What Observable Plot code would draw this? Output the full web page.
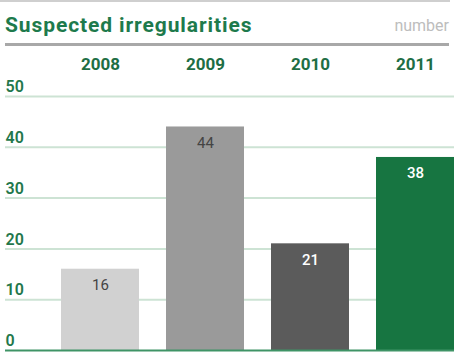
<!DOCTYPE html>
<html><head><meta charset="utf-8">
<script src="https://cdn.jsdelivr.net/npm/d3@7"></script>
<script src="https://cdn.jsdelivr.net/npm/@observablehq/plot@0.6"></script>
<style>
body{margin:0;background:#fff;font-family:Roboto,sans-serif;}
#wrap{position:relative;width:454px;height:352px;overflow:hidden}
#topline{position:absolute;left:0;top:0;width:450px;height:2px;background:#cfcfcf}
#title{position:absolute;left:5px;top:13px;font-size:21px;font-weight:700;color:#1e7a4c;line-height:24px;white-space:nowrap;letter-spacing:0.9px}
#unit{position:absolute;right:5px;top:16px;font-size:16px;color:#bdbdbd;line-height:20px}
#rule{position:absolute;left:5px;top:43px;width:444px;height:3px;background:#a8a8a8}
#chart{position:absolute;left:0;top:46px}
</style></head><body>
<div id="wrap"><div id="topline"></div><div id="title">Suspected irregularities</div><div id="unit">number</div><div id="rule"></div><div id="chart"></div></div>
<script>
const years = ["2008","2009","2010","2011"];
const counts = [16,44,21,38];
const yTicks = [0,10,20,30,40,50];
const barColors = ["#d1d1d1","#9a9a9a","#5b5b5b","#177541"];
const data = years.map((year,i)=>({year, count: counts[i]}));
const darkLabelYears = ["2008","2009"];
const plot = Plot.plot({
  width:454, height:306, marginLeft:5, marginRight:0, marginTop:50, marginBottom:2,
  style:{fontFamily:"Roboto, sans-serif", background:"transparent", overflow:"visible"},
  x:{domain: years, paddingInner:0.26, paddingOuter:0.267, align:1, axis:null},
  y:{domain:[0,50], axis:null},
  color:{domain: years, range: barColors},
  marks:[
    Plot.ruleY(yTicks.filter(d=>d>0), {stroke:"#cde3d4", strokeWidth:2}),
    Plot.barY(data, {x:"year", y:"count", fill:"year"}),
    Plot.ruleY([0], {stroke:"#3f9466", strokeWidth:2}),
    Plot.text(yTicks, {y: d=>d, frameAnchor:"left", textAnchor:"start", dy:-9.5, text: d=>String(d), fill:"#23774b", fontSize:16, fontWeight:600}),
    Plot.text(data, {x:"year", frameAnchor:"top", lineAnchor:"middle", dy:-31.5, text:"year", fill:"#1e6e44", fontSize:17, fontWeight:700}),
    Plot.text(data.filter(d=>darkLabelYears.includes(d.year)), {x:"year", y:"count", dy:16, text:d=>String(d.count), fill:"#444", fontSize:15}),
    Plot.text(data.filter(d=>!darkLabelYears.includes(d.year)), {x:"year", y:"count", dy:16, text:d=>String(d.count), fill:"#fff", fontSize:15, fontWeight:500})
  ]
});
document.getElementById("chart").appendChild(plot);
</script>
</body></html>
